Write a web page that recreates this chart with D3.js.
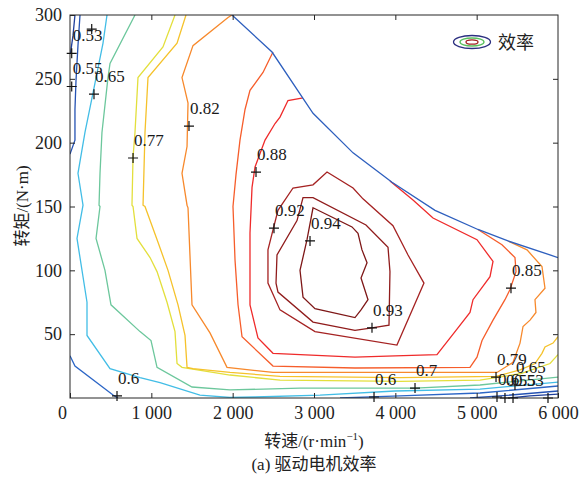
<!DOCTYPE html>
<html>
<head>
<meta charset="utf-8">
<script src="https://cdn.jsdelivr.net/npm/d3@7"></script>
<style>
body { margin: 0; background: #fff; }
svg { display: block; }
svg text { font-family: "Liberation Serif", "Times New Roman", "DejaVu Serif", "Noto Sans CJK SC", serif; }
</style>
</head>
<body>
<svg id="chart"></svg>
<script>
var width = 584, height = 478
var margin = {top: 15, right: 26, bottom: 80, left: 70}
var serif = "'Liberation Serif', 'Times New Roman', 'DejaVu Serif', 'Noto Sans CJK SC', serif"

var xTicks = [0, 1000, 2000, 3000, 4000, 5000, 6000]
var yTicks = [50, 100, 150, 200, 250, 300]

// contour levels and their colours (jet-like)
var levels = [0.53, 0.55, 0.6, 0.65, 0.7, 0.77, 0.79, 0.82, 0.85, 0.88, 0.92, 0.93, 0.94]
var levelColors = ["#1f3f9c", "#2552b3", "#2c66c6", "#42bde6", "#6cc79c", "#e3df3c", "#f5c22b",
                   "#f7892c", "#f65d2b", "#ef2b2b", "#a52222", "#901c1c", "#7e1717"]

// contour lines: [speed r/min, torque N.m]
var c053a = [[61,300],[37,284],[6,270]]
var c053b = [[5410,0],[5656,1.6],[6000,3]]
var c055a = [[123,300],[98,276],[74,249],[61,226],[61,202],[0,191]]
var c055b = [[4918,0],[5287,1.6],[6000,5.5]]
var c060a = [[0,33],[61,25],[529,2.3],[590,0]]
var c060b = [[3320,0],[4057,1.6],[5041,3.9],[6000,9.4]]
var c065 = [[455,300],[406,278],[283,239],[184,208],[98,176],[160,151],[86,125],[209,75],[209,49],
            [492,23],[861,16],[1107,12],[1598,2.3],[1967,0.4],[2275,0.8],[3074,2.3],[3996,5.5],[5041,7],[6000,12.5]]
var c070 = [[799,300],[492,262],[467,251],[393,208],[369,176],[357,151],[369,150],[320,125],[430,100],
            [504,73],[861,52],[996,45],[1070,24],[1500,8.6],[1967,6.3],[2828,7.8],[4242,7.8],[5041,10.2],[6000,16.4]]
var c077 = [[1291,300],[1143,275],[836,251],[799,208],[775,189],[762,151],[775,150],[824,125],[984,110],
            [1070,99],[1193,75],[1291,52],[1316,27],[1377,24],[1967,18],[2582,14],[4057,13],[5041,14],
            [5533,19],[5902,27],[6000,34]]
var c079 = [[1426,300],[1316,278],[959,251],[922,208],[898,151],[922,150],[1082,122],[1205,100],[1328,73],
            [1414,49],[1439,24],[1512,23],[1967,20],[2582,17],[4057,16],[5238,17],[5533,22],[5717,27],
            [5803,35],[5840,40],[5939,43],[6000,48]]
var c082 = [[1992,300],[1943,298],[1512,276],[1377,251],[1451,231],[1439,197],[1377,176],[1439,151],
            [1451,149],[1500,73],[1721,51],[1930,24],[2496,20],[3504,20],[4918,20],[5250,20],[5447,28],
            [5533,43],[5570,56],[5656,61],[5729,67],[5717,77],[5840,86],[5803,103],[5619,116],[5385,123]]
var c085 = [[2496,271],[2373,255],[2213,241],[2152,226],[2090,202],[2041,175],[2004,150],[2029,108],
            [2066,73],[2115,48],[2496,25],[3504,23.5],[4918,24],[5004,32],[5066,45],[5201,61],[5348,77],
            [5410,85],[5484,99],[5471,110],[5311,120],[5016,132]]
var c088 = [[2865,235],[2680,233],[2582,220],[2521,215],[2398,202],[2275,181],[2238,165],[2213,129],
            [2213,73],[2311,47],[2496,35],[3504,32],[3996,33],[4512,34],[4746,53],[4918,67],[4955,77],
            [5164,95],[5201,107],[5004,124],[4463,141],[4217,155],[3934,170]]
var c092 = [[3160,177],[3480,164.5],[3602,156],[3971,135],[4156,112],[4352,90],[4020,41.5],[3012,52],
            [2582,69],[2434,90],[2434,116],[2557,147],[2742,164.5],[2988,167]]
var c093 = [[2865,157],[2988,157],[3639,135.5],[3910,118],[3934,99],[3922,57],[3713,55],[3504,53],
            [2988,59.5],[2557,83],[2533,90],[2545,112],[2791,139]]
var c094 = [[2988,149],[3467,134],[3541,129],[3590,116],[3652,106],[3578,94],[3664,77],[3578,69],
            [3504,63],[3012,70],[2865,79],[2828,100],[2914,124]]

// peak torque envelope
var maxTorque = [[1992,300],[2484,271],[2988,223],[3480,192],[3959,169],[4488,147],[5016,132],[5385,123],[6000,110]]

// contour labels (clabel "+" points)
var labelPts = [[21,270],[21,244],[295,238],[775,188],[1463,213],[2287,177],[2508,133],[2951,123],
                [3713,55],[5422,86],[578,1.6],[3738,0.8],[4242,7.8],[5238,16.4],[5471,10.2],
                [5250,0.8],[5348,0],[5447,0],[267,289],[5877,0]]
var labelTexts = ["0.53","0.55","0.65","0.77","0.82","0.88","0.92","0.94",
                  "0.93","0.85","0.6","0.6","0.7","0.79","0.65",
                  "0.6","0.55","0.53","",""]

var contours = [
    {level: 0.53, pts: c053a}, {level: 0.53, pts: c053b},
    {level: 0.55, pts: c055a}, {level: 0.55, pts: c055b},
    {level: 0.6, pts: c060a}, {level: 0.6, pts: c060b},
    {level: 0.65, pts: c065}, {level: 0.7, pts: c070},
    {level: 0.77, pts: c077}, {level: 0.79, pts: c079},
    {level: 0.82, pts: c082}, {level: 0.85, pts: c085},
    {level: 0.88, pts: c088},
    {level: 0.92, pts: c092, closed: true},
    {level: 0.93, pts: c093, closed: true},
    {level: 0.94, pts: c094, closed: true}
]

var svg = d3.select("#chart").attr("width", width).attr("height", height)
svg.append("rect").attr("width", width).attr("height", height).attr("fill", "#fff")

var x = d3.scaleLinear().domain([0, 6000]).range([margin.left, width - margin.right])
var y = d3.scaleLinear().domain([0, 300]).range([height - margin.bottom, margin.top])
var fmt = d3.formatLocale({decimal: ".", thousands: " ", grouping: [3], currency: ["", ""]}).format(",")

svg.append("clipPath").attr("id", "plot-clip")
    .append("rect")
    .attr("x", x(0)).attr("y", y(300))
    .attr("width", x(6000) - x(0)).attr("height", y(0) - y(300))

// contour lines
var plot = svg.append("g").attr("clip-path", "url(#plot-clip)")
contours.forEach(function (c) {
    var line = d3.line()
        .x(function (d) { return x(d[0]) })
        .y(function (d) { return y(d[1]) })
        .curve(c.closed ? d3.curveLinearClosed : d3.curveLinear)
    plot.append("path")
        .attr("d", line(c.pts))
        .attr("fill", "none")
        .attr("stroke", levelColors[levels.indexOf(c.level)])
        .attr("stroke-width", 1.3)
})

plot.append("path")
    .attr("d", d3.line().x(function (d) { return x(d[0]) }).y(function (d) { return y(d[1]) })(maxTorque))
    .attr("fill", "none")
    .attr("stroke", "#2e5fbe")
    .attr("stroke-width", 1.3)

// axes, ticks inside on all four sides
var axisColor = "#262626"
var gx = svg.append("g").attr("transform", "translate(0," + y(0) + ")")
    .call(d3.axisBottom(x).tickValues(xTicks).tickSizeInner(-5).tickSizeOuter(0).tickPadding(8).tickFormat(fmt))
var gy = svg.append("g").attr("transform", "translate(" + x(0) + ",0)")
    .call(d3.axisLeft(y).tickValues(yTicks).tickSizeInner(-5).tickSizeOuter(0).tickPadding(8))
var gt = svg.append("g").attr("transform", "translate(0," + y(300) + ")")
    .call(d3.axisTop(x).tickValues(xTicks.slice(1, 6)).tickSizeInner(-5).tickSizeOuter(0).tickFormat(""))
var gr = svg.append("g").attr("transform", "translate(" + x(6000) + ",0)")
    .call(d3.axisRight(y).tickValues(yTicks.slice(0, 5)).tickSizeInner(-5).tickSizeOuter(0).tickFormat(""))

;[gx, gy, gt, gr].forEach(function (g) {
    g.attr("font-family", null)
    g.select(".domain").remove()
    g.selectAll("line").attr("stroke", axisColor)
    g.selectAll("text").attr("fill", "#222").style("font-size", "18px").style("font-family", serif)
})
gx.selectAll(".tick").filter(function (d) { return d == 0 }).select("text").attr("dx", -8)

svg.append("rect")
    .attr("x", x(0)).attr("y", y(300))
    .attr("width", x(6000) - x(0)).attr("height", y(0) - y(300))
    .attr("fill", "none").attr("stroke", axisColor).attr("stroke-width", 1)

// contour labels with + markers
var lab = svg.append("g")
labelPts.forEach(function (p, i) {
    var px = x(p[0]), py = y(p[1])
    lab.append("path")
        .attr("d", "M" + (px - 5) + "," + py + "H" + (px + 5) + "M" + px + "," + (py - 5) + "V" + (py + 5))
        .attr("stroke", "#111").attr("stroke-width", 1.2)
    if (labelTexts[i] != "") {
        lab.append("text")
            .attr("x", px + 1).attr("y", py - 12)
            .attr("fill", "#1a1a1a")
            .style("font-family", serif)
            .style("font-size", "17px")
            .text(labelTexts[i])
    }
})

// axis titles and caption
svg.append("text")
    .attr("text-anchor", "middle")
    .attr("transform", "translate(28,206) rotate(-90)")
    .style("font-family", serif)
    .style("font-size", "17px")
    .attr("fill", "#222")
    .text("转矩/(N·m)")

var xt = svg.append("text")
    .attr("x", 314).attr("y", 447)
    .attr("text-anchor", "middle")
    .style("font-family", serif)
    .style("font-size", "17px")
    .attr("fill", "#222")
xt.append("tspan").text("转速/(r·min")
xt.append("tspan").attr("dy", -7).style("font-size", "11px").text("−1")
xt.append("tspan").attr("dy", 7).text(")")

svg.append("text")
    .attr("x", 314).attr("y", 470)
    .attr("text-anchor", "middle")
    .style("font-family", serif)
    .style("font-size", "17px")
    .attr("fill", "#222")
    .text("(a) 驱动电机效率")

// legend
var leg = svg.append("g").attr("transform", "translate(472,42)")
leg.append("ellipse").attr("rx", 18.5).attr("ry", 6.5).attr("fill", "none").attr("stroke", "#2b2f80").attr("stroke-width", 1.3)
leg.append("ellipse").attr("rx", 12).attr("ry", 4).attr("fill", "none").attr("stroke", "#58c05c").attr("stroke-width", 1.3)
leg.append("ellipse").attr("rx", 6).attr("ry", 2.2).attr("fill", "none").attr("stroke", "#a02020").attr("stroke-width", 1.3)
leg.append("text").attr("x", 26).attr("y", 6.5).style("font-family", serif).style("font-size", "18px").attr("fill", "#222").text("效率")
</script>
</body>
</html>
